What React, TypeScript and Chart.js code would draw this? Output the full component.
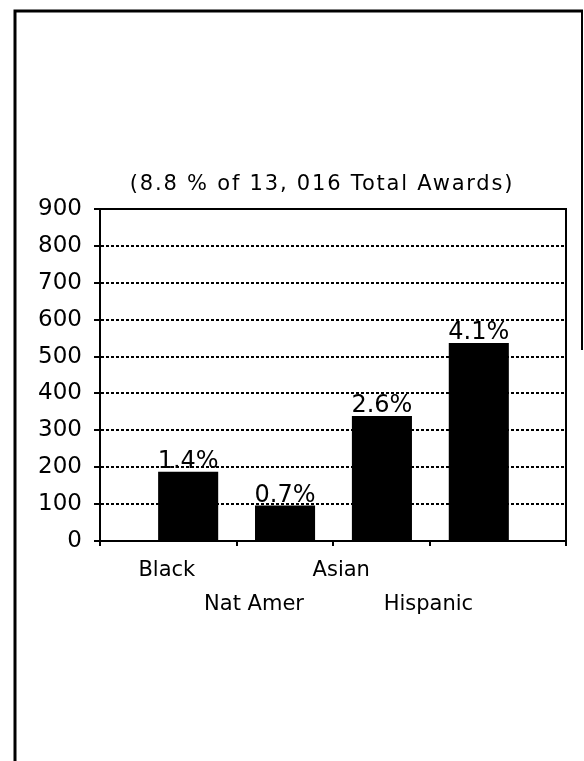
import React, { useEffect, useRef } from "react";
import { Chart, registerables } from "chart.js";

Chart.register(...registerables);

// ---- data ----
const categories = ["Black", "Nat Amer", "Asian", "Hispanic"];
const awards = [188, 96, 339, 537];
const shareLabels = ["1.4%", "0.7%", "2.6%", "4.1%"];
const yMin = 0;
const yMax = 900;
const yStep = 100;
const titleText = "(8.8 % of 13, 016 Total Awards)";

const FONT = '"DejaVu Sans", "Noto Sans", sans-serif';

export default function App() {
  const ref = useRef<HTMLCanvasElement>(null);

  useEffect(() => {
    const canvas = ref.current;
    if (!canvas) return;

    const decorations = {
      id: "decorations",
      beforeDraw(chart: any) {
        const ctx = chart.ctx;
        ctx.save();
        ctx.fillStyle = "#fff";
        ctx.fillRect(0, 0, chart.width, chart.height);
        ctx.strokeStyle = "#000";
        ctx.lineWidth = 3;
        ctx.beginPath();
        ctx.moveTo(15, chart.height);
        ctx.lineTo(15, 11);
        ctx.lineTo(583, 11);
        ctx.stroke();
        ctx.lineWidth = 2;
        ctx.beginPath();
        ctx.moveTo(582, 11);
        ctx.lineTo(582, 350);
        ctx.stroke();
        ctx.restore();
      },
      afterDatasetsDraw(chart: any) {
        const { ctx, chartArea: a, scales } = chart;
        ctx.save();
        // plot frame
        ctx.lineWidth = 2;
        ctx.strokeStyle = "#000";
        ctx.strokeRect(a.left, a.top, a.right - a.left, a.bottom - a.top);
        // title
        ctx.fillStyle = "#000";
        ctx.textAlign = "center";
        ctx.textBaseline = "alphabetic";
        ctx.font = `21px ${FONT}`;
        (ctx as any).letterSpacing = "1.8px";
        ctx.fillText(titleText, (a.left + a.right) / 2 - 11, a.top - 19);
        (ctx as any).letterSpacing = "0px";
        // value labels above bars
        ctx.font = `24px ${FONT}`;
        const meta = chart.getDatasetMeta(0);
        meta.data.forEach((bar: any, i: number) => {
          ctx.fillText(shareLabels[i], bar.x, bar.y - 4);
        });
        // staggered category labels
        ctx.font = `21px ${FONT}`;
        const xs = scales.x;
        categories.forEach((c, i) => {
          const px = xs.getPixelForValue(i * 0.9 - 0.22);
          ctx.fillText(c, px, a.bottom + (i % 2 === 0 ? 35 : 69));
        });
        ctx.restore();
      },
    };

    const chart = new Chart(canvas, {
      type: "bar",
      data: {
        datasets: [
          {
            data: awards.map((v, i) => ({ x: i, y: v })) as any,
            backgroundColor: "#000",
            borderWidth: 0,
            barPercentage: 0.62,
            categoryPercentage: 1,
          },
        ],
      },
      options: {
        responsive: false,
        animation: false,
        events: [],
        layout: { padding: { top: 209, right: 18, left: 0, bottom: 0 } },
        plugins: {
          legend: { display: false },
          tooltip: { enabled: false },
          title: { display: false },
        },
        scales: {
          x: {
            type: "linear",
            bounds: "data",
            offset: false,
            min: -0.91,
            max: categories.length - 1 + 0.9,
            afterBuildTicks: (scale: any) => {
              const vals = [scale.min];
              for (let i = 0; i < categories.length - 1; i++) vals.push(i + 0.5);
              vals.push(scale.max);
              scale.ticks = vals.map((v) => ({ value: v }));
            },
            afterFit: (scale: any) => {
              scale.height = 220;
            },
            ticks: { display: false },
            grid: {
              display: true,
              offset: false,
              drawOnChartArea: false,
              drawTicks: true,
              tickLength: 5,
              color: "#000",
              lineWidth: 2,
            },
            border: { display: true, color: "#000", width: 2 },
          },
          y: {
            type: "linear",
            min: yMin,
            max: yMax,
            afterFit: (scale: any) => {
              scale.width = 100;
            },
            ticks: {
              stepSize: yStep,
              color: "#000",
              padding: 12,
              font: { family: FONT, size: 23 },
            },
            grid: {
              color: "#000",
              lineWidth: 2,
              tickLength: 6,
              tickWidth: 2,
              drawTicks: true,
            },
            border: { display: true, color: "#000", width: 2, dash: [3, 2] },
          },
        },
      },
      plugins: [decorations],
    });

    return () => chart.destroy();
  }, []);

  return (
    <div style={{ position: "absolute", left: 0, top: 0, width: 584, height: 761, background: "#fff" }}>
      <canvas ref={ref} width={584} height={761} style={{ display: "block", width: 584, height: 761 }} />
    </div>
  );
}
